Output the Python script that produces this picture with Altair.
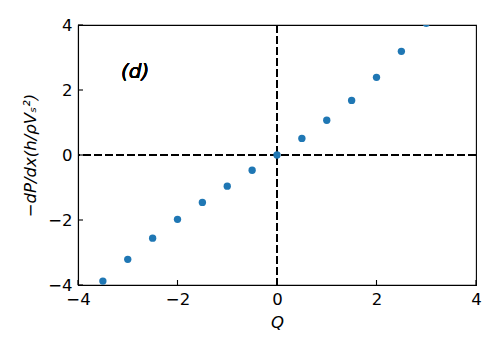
import altair as alt
import pandas as pd

Q = [-3.5, -3.0, -2.5, -2.0, -1.5, -1.0, -0.5, 0.0, 0.5, 1.0, 1.5, 2.0, 2.5, 3.0]
dpdx = [-3.88, -3.21, -2.56, -1.98, -1.46, -0.96, -0.47, 0.0, 0.51, 1.07, 1.68, 2.39, 3.19, 4.05]
ticks = [-4, -2, 0, 2, 4]

W, H = 398, 260
font = "DejaVu Sans"
FS = 16.5

df = pd.DataFrame({"Q": Q, "v": dpdx})
tdf = pd.DataFrame({"t": ticks})

xs = alt.Scale(domain=[-4, 4], nice=False, zero=False)
ys = alt.Scale(domain=[-4, 4], nice=False, zero=False)

common = dict(grid=False, ticks=False, labelPadding=6, labelFlush=False,
              labelFont=font, titleFont=font, labelFontSize=FS, titleFontSize=FS,
              labelColor="black", titleColor="black", titleFontWeight="normal",
              titleFontStyle="italic", titleBaseline="middle", format="d",
              domainColor="black", domainWidth=1.1, labelOverlap=False)
xaxis = alt.Axis(values=ticks, title="Q", titleY=37, **common)
yaxis = alt.Axis(values=ticks, title="−dP/dx(h/ρVₛ²)", titleX=-48, **common)

pts = alt.Chart(df).mark_circle(size=54, color="#1f77b4", opacity=1, clip=True).encode(
    x=alt.X("Q:Q", scale=xs, axis=xaxis),
    y=alt.Y("v:Q", scale=ys, axis=yaxis),
)

dash = [7.7, 3.3]
hline = alt.Chart(tdf).mark_rule(color="black", strokeDash=dash, strokeWidth=2).encode(
    y=alt.datum(0, scale=ys))
vline = alt.Chart(tdf).mark_rule(color="black", strokeDash=dash, strokeWidth=2).encode(
    x=alt.datum(0, scale=xs))

xt = alt.Chart(tdf).mark_rule(color="black", strokeWidth=1.1).encode(
    x=alt.X("t:Q", scale=xs), y=alt.value(H), y2=alt.value(H - 5))
yt = alt.Chart(tdf).mark_rule(color="black", strokeWidth=1.1).encode(
    y=alt.Y("t:Q", scale=ys), x=alt.value(0), x2=alt.value(5))

label = alt.Chart(tdf).mark_text(text="(d)", font=font, fontSize=20, fontStyle="italic",
                                 fontWeight="normal", color="black").encode(
    x=alt.datum(-2.85, scale=xs), y=alt.datum(2.56, scale=ys))

chart = alt.layer(hline, vline, pts, xt, yt, label).properties(
    width=W, height=H,
    autosize=alt.AutoSizeParams(type="none"),
    padding={"left": 70, "top": 17, "right": 16, "bottom": 57},
).configure_view(stroke="black", strokeWidth=1.1)

chart.save("out.html", embed_options={"renderer": "svg", "actions": False})
